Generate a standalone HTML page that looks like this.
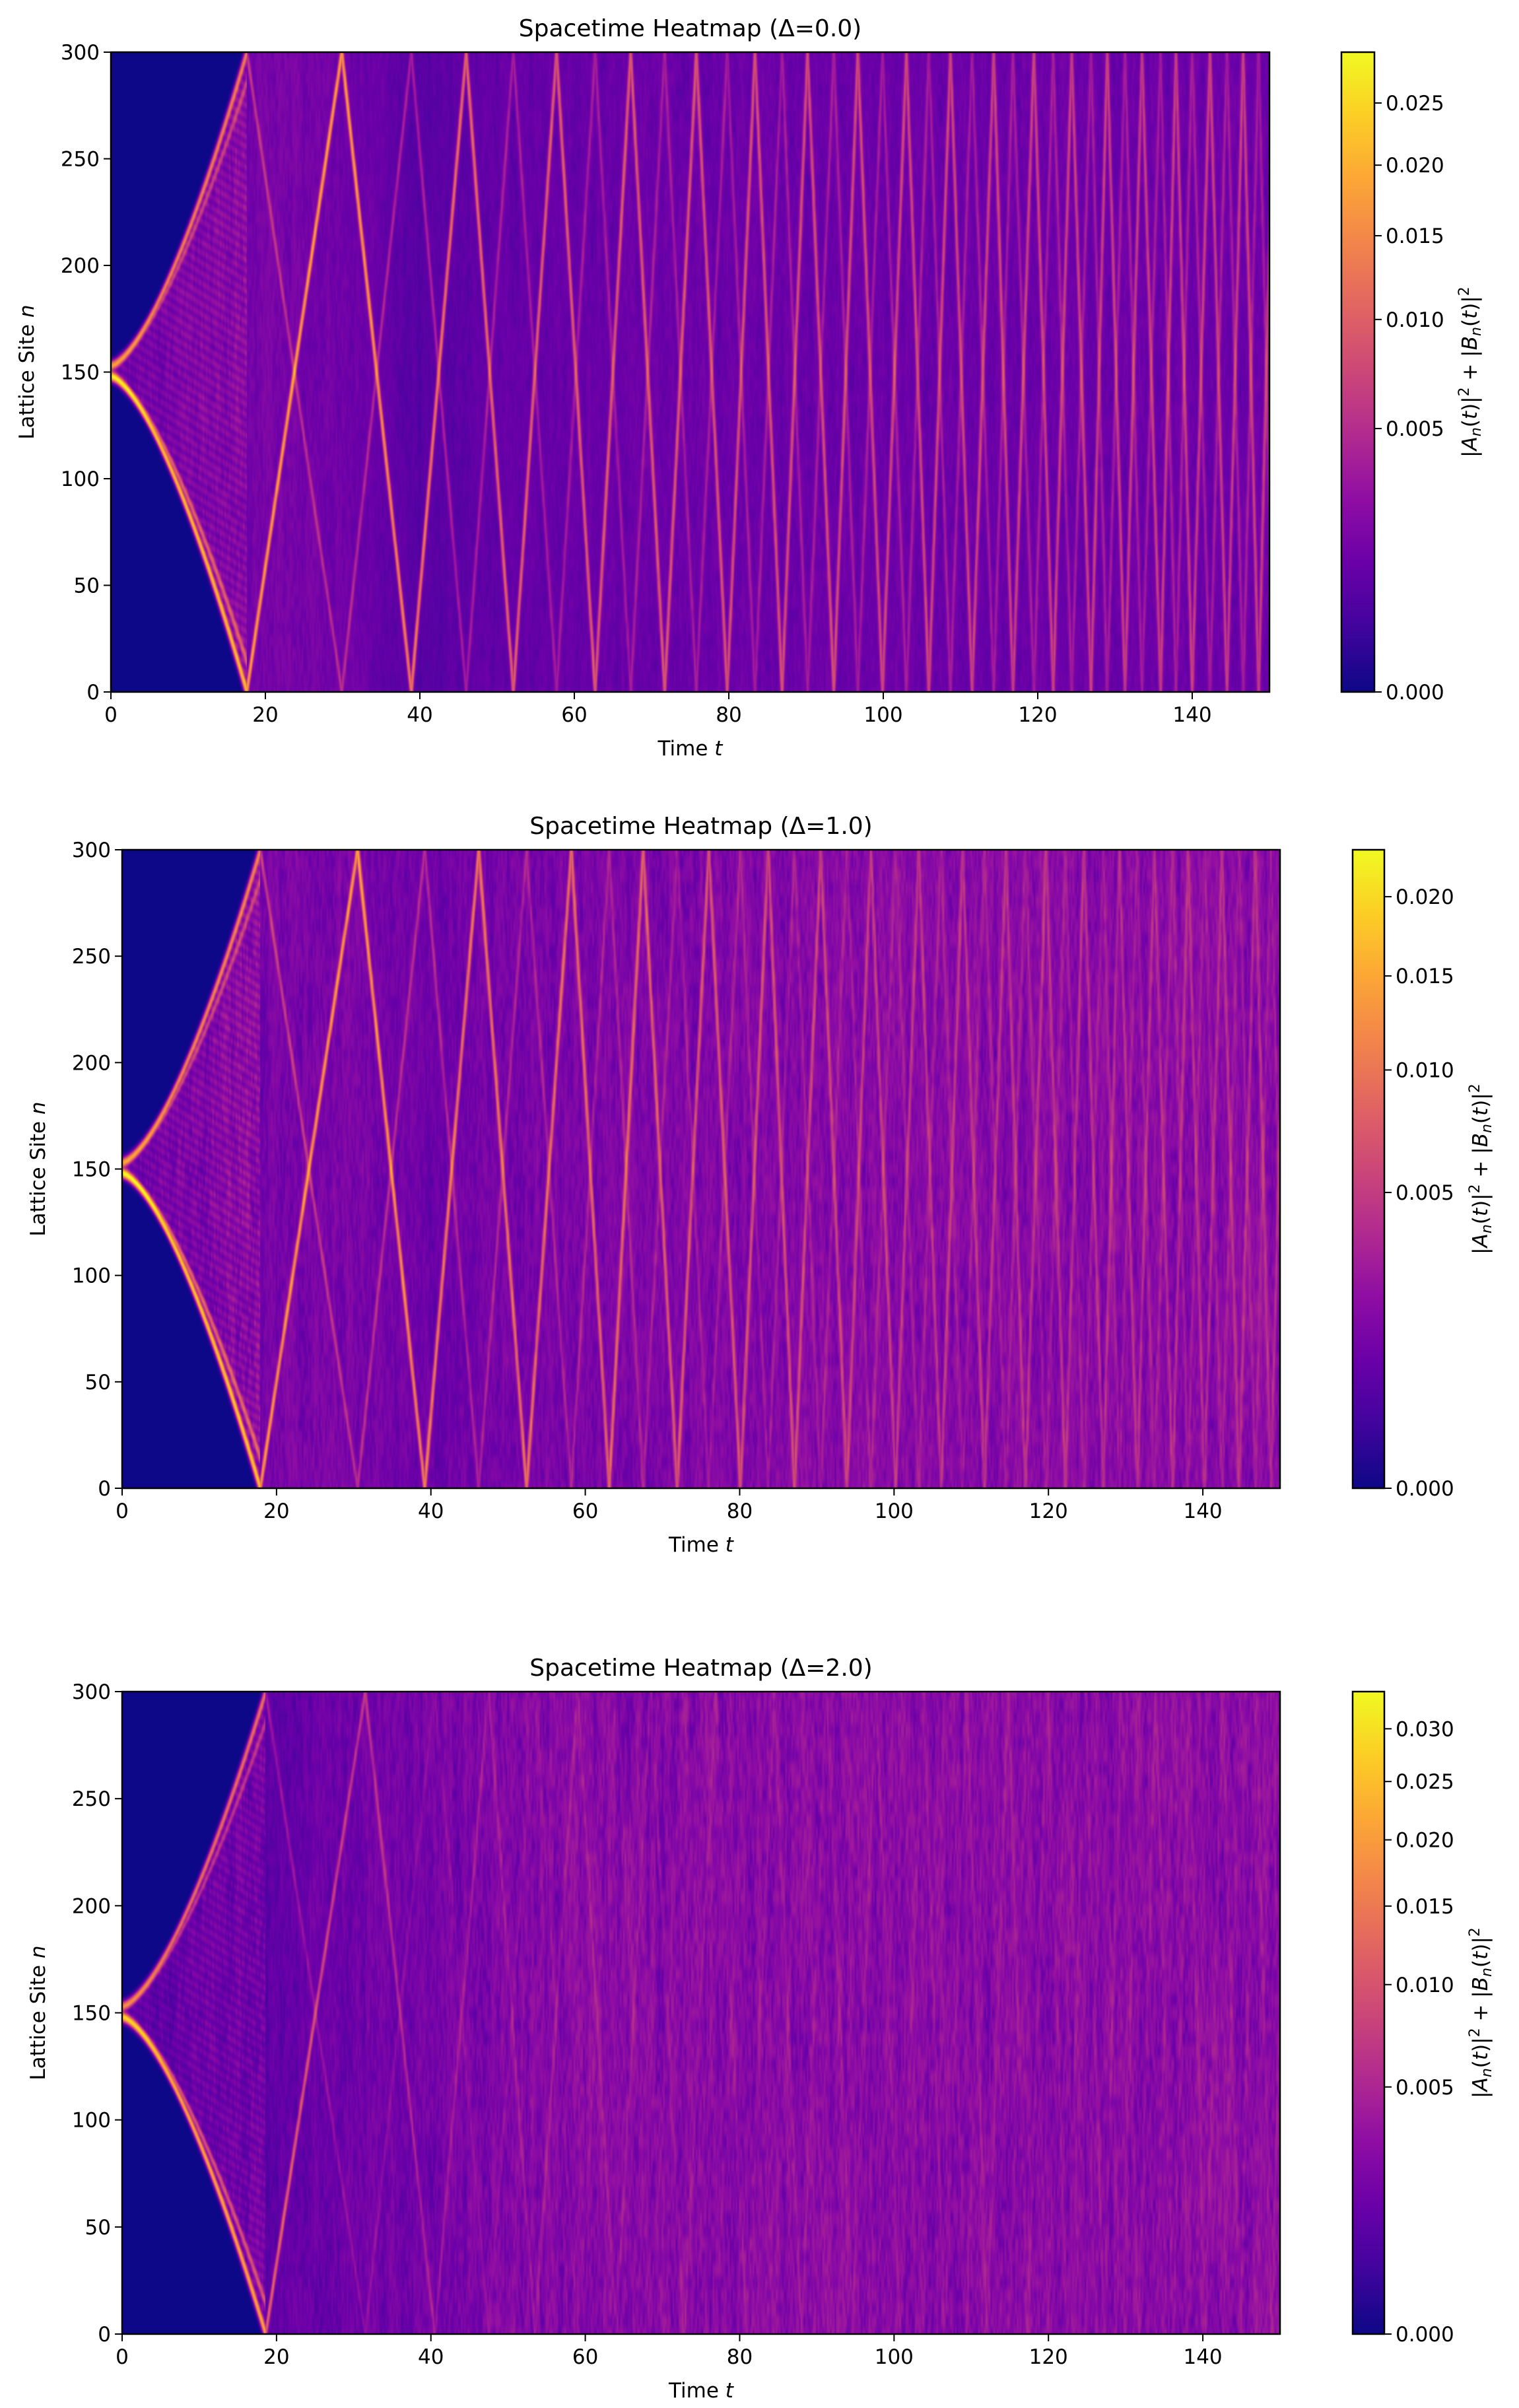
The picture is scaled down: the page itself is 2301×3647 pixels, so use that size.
<!DOCTYPE html>
<html><head><meta charset="utf-8">
<style>
html,body{margin:0;padding:0;background:#fff;}
#root{position:relative;width:2301px;height:3647px;overflow:hidden;background:#fff;}
canvas{position:absolute;}
svg{position:absolute;left:0;top:0;}
</style></head>
<body>
<div id="root">
<canvas id="hm0"></canvas>
<canvas id="hm1"></canvas>
<canvas id="hm2"></canvas>
<canvas id="cb0"></canvas>
<canvas id="cb1"></canvas>
<canvas id="cb2"></canvas>
<svg id="ov" width="2301" height="3647"></svg>
</div>
<script>
// ---- data ----
const xTicks = [0,20,40,60,80,100,120,140];
const yTicks = [0,50,100,150,200,250,300];
const titles = ["Spacetime Heatmap (\u0394=0.0)","Spacetime Heatmap (\u0394=1.0)","Spacetime Heatmap (\u0394=2.0)"];
const vmaxes = [0.0295, 0.0233, 0.0338];
const cbTicks0 = [0.000,0.005,0.010,0.015,0.020,0.025];
const cbTicks1 = [0.000,0.005,0.010,0.015,0.020];
const cbTicks2 = [0.000,0.005,0.010,0.015,0.020,0.025,0.030];
const bgT = [0,10,20,30,40,50,60,70,80,90,100,110,120,130,140,150];
const bg0 = [0,0,0.0017,0.0014,0.0007,0.0010,0.0011,0.0012,0.0012,0.0012,0.0012,0.0012,0.0012,0.0012,0.0012,0.0012];
const bg1 = [0,0,0.0014,0.0014,0.0010,0.0013,0.0014,0.0015,0.0016,0.0017,0.0018,0.0018,0.0018,0.0018,0.0018,0.0018];
const bg2 = [0,0,0.0011,0.0016,0.0018,0.0024,0.0026,0.0027,0.0027,0.0027,0.0027,0.0027,0.0027,0.0027,0.0027,0.0027];
const ampA0 = [0.02,0.018,0.015,0.016,0.011,0.009,0.008,0.0075,0.007,0.0065,0.006,0.0058,0.0055,0.0053,0.0052,0.005];
const ampA1 = [0.015,0.013,0.011,0.012,0.009,0.008,0.007,0.006,0.005,0.004,0.0032,0.0028,0.0025,0.0024,0.0023,0.0023];
const ampA2 = [0.018,0.015,0.010,0.005,0.0025,0.0018,0.0015,0.0012,0.001,0.001,0.001,0.001,0.001,0.001,0.001,0.001];
const ampB0 = [0.008,0.006,0.004,0.0035,0.003,0.0028,0.0025,0.0025,0.0025,0.0025,0.0025,0.0025,0.0025,0.0025,0.0025,0.0025];
const ampB1 = [0.006,0.005,0.0035,0.003,0.0025,0.002,0.0018,0.0016,0.0015,0.0014,0.0012,0.0012,0.0012,0.0012,0.0012,0.0012];
const ampB2 = [0.006,0.004,0.0025,0.0015,0.001,0.0008,0.0006,0.0005,0.0005,0.0005,0.0005,0.0005,0.0005,0.0005,0.0005,0.0005];
const bounce0 = [17.6,29.9,38.9,46.0,52.1,57.7,62.7,67.3,71.7,75.8,79.8,83.4,86.9,90.2,93.6,96.7,99.9,103.0,105.9,108.7,111.5,114.3,116.8,119.5,122.0,124.4,126.9,129.0,131.3,133.5,135.9,137.9,140.0,142.3,144.5,146.6,148.6];
const bounce1 = [17.9,30.5,39.2,46.2,52.4,58.2,63.1,67.5,71.9,76.0,80.1,83.7,87.1,90.5,93.9,97.0,100.2,103.2,106.1,108.9,111.7,114.5,117.0,119.7,122.2,124.6,127.1,129.2,131.5,133.7,136.1,138.1,140.2,142.5,144.7,146.8,148.8];
const bounce2 = [18.6,31.5,40.5,47.5,53.5,59.0,64.0,68.5,72.8,76.9,80.9,84.5,88.0,91.3,94.6,97.7,100.8,103.8,106.6,109.4,112.1,114.8,117.3,119.9,122.4,124.8,127.2,129.4,131.7,133.9,136.2,138.2,140.3,142.6,144.8,146.9,148.9];
const coneFill = [0.0025, 0.0020, 0.0018];
const noiseAmp = [0.28, 0.38, 0.42];

// ---- layout ----
const L = [
 {x:168,y:79,w:1755,h:969, cbx:2032,cbw:50, ylx:51, cblx:2237},
 {x:185,y:1287,w:1754,h:967, cbx:2049,cbw:48, ylx:68, cblx:2253},
 {x:185,y:2562,w:1754,h:973, cbx:2049,cbw:48, ylx:68, cblx:2253}
];
const BG=[bg0,bg1,bg2], AA=[ampA0,ampA1,ampA2], AB=[ampB0,ampB1,ampB2], BO=[bounce0,bounce1,bounce2], CBT=[cbTicks0,cbTicks1,cbTicks2];

const plasma=[[13,8,135],[65,4,157],[106,0,168],[143,13,164],[177,42,144],[204,71,120],[225,100,98],[242,132,75],[252,166,54],[252,206,37],[240,249,33]];
function cmap(f){f=Math.max(0,Math.min(1,f))*10;const i=Math.min(9,Math.floor(f)),r=f-i,a=plasma[i],b=plasma[i+1];return [a[0]+(b[0]-a[0])*r,a[1]+(b[1]-a[1])*r,a[2]+(b[2]-a[2])*r];}
function interp(xs,ys,x){if(x<=xs[0])return ys[0];for(let i=1;i<xs.length;i++){if(x<=xs[i]){const r=(x-xs[i-1])/(xs[i]-xs[i-1]);return ys[i-1]+(ys[i]-ys[i-1])*r;}}return ys[ys.length-1];}
function hash(i,j){let h=(i*374761393+j*668265263)|0;h=(h^(h>>>13))*1274126177|0;return ((h^(h>>>16))>>>0)/4294967296;}
function vn(x,y){const i=Math.floor(x),j=Math.floor(y),fx=x-i,fy=y-j;const a=hash(i,j),b=hash(i+1,j),c=hash(i,j+1),d=hash(i+1,j+1);const sx=fx*fx*(3-2*fx),sy=fy*fy*(3-2*fy);return a+(b-a)*sx+(c-a)*sy*(1-sx)+(d-b)*sx*sy;}

function render(p){
 const lay=L[p], cv=document.getElementById('hm'+p);
 cv.width=lay.w;cv.height=lay.h;cv.style.left=lay.x+'px';cv.style.top=lay.y+'px';
 const ctx=cv.getContext('2d'),img=ctx.createImageData(lay.w,lay.h),D=img.data;
 const bo=BO[p].slice();const g=bo[bo.length-1]-bo[bo.length-2];bo.push(bo[bo.length-1]+g,bo[bo.length-1]+2*g);
 const T1=bo[0],vmax=vmaxes[p],wt=0.2,na=noiseAmp[p];
 for(let px=0;px<lay.w;px++){
  const t=(px+0.5)/lay.w*150;
  const bgv=interp(bgT,BG[p],t),aA=interp(bgT,AA[p],t),aB=interp(bgT,AB[p],t);
  let k=0;while(k<bo.length-2&&bo[k+1]<=t)k++;
  for(let py=0;py<lay.h;py++){
   const n=300*(1-(py+0.5)/lay.h);
   let v=0;
   const tex=1+na*(vn(t*5,n/6)-0.5)*2+na*0.7*(vn(t*1.6+p*7,n/70)-0.5)*2;
   if(t<T1){
    const s=Math.pow(t/T1,1.5);
    const lo=148-148*s, hi=153+147*s;
    if(n>lo&&n<hi) v=coneFill[p]*(0.6+0.4*s)*tex*(1+0.25*Math.sin(n*1.3+t*3));
    let r=0;
    for(const [c,sg,amp] of [[148,-1,1],[153,1,0.6]]){
     for(const sc of [1,1.07]){
      const T=T1*sc,ss=Math.pow(Math.min(t/T,1.2),1.5);
      const nb=c+sg*(sg<0?148:147)*ss;
      const dn=Math.abs(n-nb);
      const lim=sg<0?(148-n)/148:(n-153)/147;
      let dt=99; if(lim>0) dt=Math.abs(t-T*Math.pow(lim,2/3));
      const d=Math.min(dn/1.8,dt/0.25);
      r+=amp*(sc===1?1:0.4)*Math.exp(-d*d);
     }
    }
    v+=r*0.02*(p===1?0.85:1);
   } else {
    v=bgv*tex;
    let ra=0,rb=0;
    for(let j=Math.max(0,k-1);j<=Math.min(bo.length-2,k+1);j++){
     const t0=bo[j],t1=bo[j+1];
     const nA0=(j%2===0)?0:300,nA1=300-nA0;
     const fA=(n-nA0)/(nA1-nA0);
     const dA=(t-(t0+(t1-t0)*fA))/wt; ra=Math.max(ra,Math.exp(-dA*dA));
     const fB=1-fA;
     const dB=(t-(t0+(t1-t0)*fB))/wt; rb=Math.max(rb,Math.exp(-dB*dB));
    }
    v+=(ra*aA+rb*aB)*(0.75+0.25*tex);
   }
   const c=cmap(Math.sqrt(Math.max(0,v)/vmax));
   const o=(py*lay.w+px)*4;D[o]=c[0];D[o+1]=c[1];D[o+2]=c[2];D[o+3]=255;
  }
 }
 ctx.putImageData(img,0,0);
 const cb=document.getElementById('cb'+p);cb.width=lay.cbw;cb.height=lay.h;cb.style.left=lay.cbx+'px';cb.style.top=lay.y+'px';
 const c2=cb.getContext('2d');
 for(let y=0;y<lay.h;y++){const c=cmap(1-(y+0.5)/lay.h);c2.fillStyle='rgb('+c.map(Math.round).join(',')+')';c2.fillRect(0,y,lay.cbw,1);}
}

const NS='http://www.w3.org/2000/svg',ov=document.getElementById('ov');
function mk(tag,attrs,parent){const e=document.createElementNS(NS,tag);for(const k in attrs)e.setAttribute(k,attrs[k]);(parent||ov).appendChild(e);return e;}
const FONT='"DejaVu Sans","Liberation Sans",sans-serif';
function axes(p){
 const lay=L[p];
 const g=mk('g',{});
 
 
 const xs=t=>lay.x+t/150*lay.w, ys=n=>lay.y+lay.h-n/300*lay.h;
 const fr=mk('rect',{x:lay.x,y:lay.y,width:lay.w,height:lay.h,fill:'none',stroke:'#000','stroke-width':2.5},g);
 
 
 for(const t of xTicks){
  const X=xs(t);
  const tk=mk('line',{x1:X,x2:X,y1:lay.y+lay.h,y2:lay.y+lay.h+11,stroke:'#000','stroke-width':2},g);
  
  
  const tx=mk('text',{x:X,y:lay.y+lay.h+45,'text-anchor':'middle','font-size':31,'font-family':FONT},g);tx.textContent=t;
  
  
 }
 for(const n of yTicks){
  const Y=ys(n);
  const tk=mk('line',{x1:lay.x-11,x2:lay.x,y1:Y,y2:Y,stroke:'#000','stroke-width':2},g);
  
  
  const tx=mk('text',{x:lay.x-17,y:Y+11,'text-anchor':'end','font-size':31,'font-family':FONT},g);tx.textContent=n;
  
  
 }
 const ti=mk('text',{x:lay.x+lay.w/2,y:lay.y-24,'text-anchor':'middle','font-size':36,'font-family':FONT},g);ti.textContent=titles[p];
 
 
 const xl=mk('text',{x:lay.x+lay.w/2,y:lay.y+lay.h+96,'text-anchor':'middle','font-size':31,'font-family':FONT},g);
 xl.innerHTML='Time <tspan font-style="italic">t</tspan>';
 
 
 const cy=lay.y+lay.h/2;
 const yl=mk('text',{x:lay.ylx,y:cy,'text-anchor':'middle','font-size':31,'font-family':FONT,transform:'rotate(-90 '+lay.ylx+' '+cy+')'},g);
 yl.innerHTML='Lattice Site <tspan font-style="italic">n</tspan>';
 
 
 const cbr=mk('rect',{x:lay.cbx,y:lay.y,width:lay.cbw,height:lay.h,fill:'none',stroke:'#000','stroke-width':2.5},g);
 
 
 for(const v of CBT[p]){
  const Y=lay.y+lay.h-Math.sqrt(v/vmaxes[p])*lay.h;
  const tk=mk('line',{x1:lay.cbx+lay.cbw,x2:lay.cbx+lay.cbw+11,y1:Y,y2:Y,stroke:'#000','stroke-width':2},g);
  
  
  const tx=mk('text',{x:lay.cbx+lay.cbw+17,y:Y+11,'font-size':31,'font-family':FONT},g);tx.textContent=v.toFixed(3);
  
  
 }
 const cl=mk('text',{x:lay.cblx,y:cy,'text-anchor':'middle','font-size':31,'font-family':FONT,transform:'rotate(-90 '+lay.cblx+' '+cy+')'},g);
 cl.innerHTML='|<tspan font-style="italic">A</tspan><tspan font-style="italic" font-size="22" dy="6">n</tspan><tspan dy="-6">(</tspan><tspan font-style="italic">t</tspan>)|<tspan font-size="22" dy="-12">2</tspan><tspan dy="12"> + |</tspan><tspan font-style="italic">B</tspan><tspan font-style="italic" font-size="22" dy="6">n</tspan><tspan dy="-6">(</tspan><tspan font-style="italic">t</tspan>)|<tspan font-size="22" dy="-12">2</tspan>';
 
 
}
for(let p=0;p<3;p++){render(p);axes(p);}
</script>
</body></html>
